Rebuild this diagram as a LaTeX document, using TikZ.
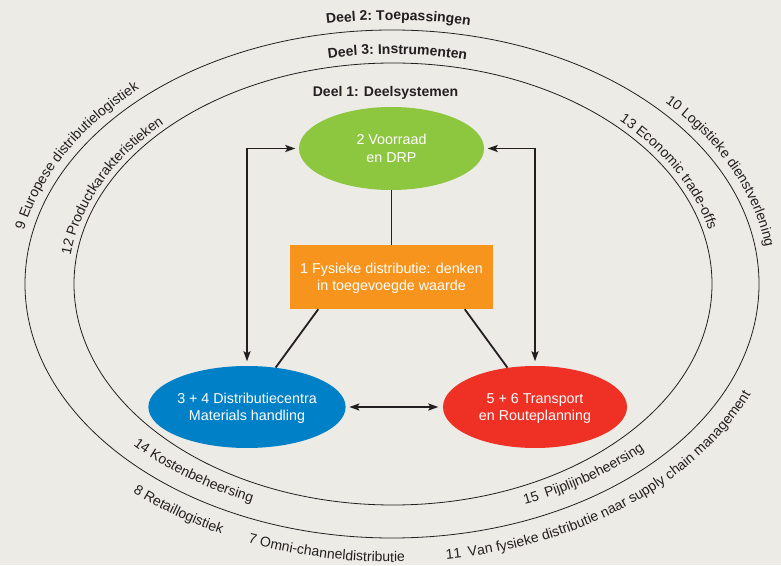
\documentclass[tikz,border=0pt]{standalone}
\usepackage{fontspec}
\setmainfont{Liberation Sans}
\usetikzlibrary{shapes.geometric,arrows.meta,decorations.text,calc}
\definecolor{bg}{HTML}{ECEBE6}
\definecolor{ink}{HTML}{231F20}
\definecolor{cgreen}{HTML}{8DC63F}
\definecolor{corange}{HTML}{F7941D}
\definecolor{cblue}{HTML}{0080C6}
\definecolor{cred}{HTML}{EE3124}
\newcommand{\lblfont}{\fontsize{14}{16}\selectfont}
\newcommand{\boldlbl}{\fontsize{14}{16}\selectfont\bfseries}
\newcommand{\nodefont}{\fontsize{14.3}{17.5}\selectfont}
% #1 x radius, #2 y radius, #3 start angle, #4 end angle, #5 font, #6 text
\newcommand{\arctext}[6]{%
  \path[decorate, decoration={text along path, text={|#5|#6}, text align=center, text color=ink}]
    ([shift={(392pt,281pt)}]#3:#1pt and #2pt) arc[start angle=#3, end angle=#4, x radius=#1pt, y radius=#2pt];}
\begin{document}
\begin{tikzpicture}[x=1pt,y=1pt,
  ring/.style={draw=ink, line width=0.8pt},
  blob/.style={ellipse, inner sep=0pt, minimum width=185pt, minimum height=83pt,
    text=white, font=\nodefont, align=center, text depth=0pt},
  conn/.style={draw=ink, line width=1.8pt},
  arr/.style={conn, {Stealth[length=10pt,width=7pt,inset=2pt]}-{Stealth[length=10pt,width=7pt,inset=2pt]},
    shorten <=3.5pt, shorten >=4.5pt},
]
\useasboundingbox (0,0) rectangle (781,565);
\fill[bg] (0,0) rectangle (781,565);

% rings
\coordinate (C) at (392,281);
\draw[ring] (C) ellipse [x radius=367, y radius=254];
\draw[ring] (393,281) ellipse [x radius=319, y radius=221];

% nodes
\node[blob, fill=cgreen] (vr) at (391.5,416.5) {2 Voorraad\\en DRP};
\node[rectangle, fill=corange, minimum width=203pt, minimum height=64pt, inner sep=0pt,
  text=white, font=\nodefont, align=center, text depth=0pt] (fd) at (391.5,288)
  {1 Fysieke distributie: denken\\in toegevoegde waarde};
\node[blob, fill=cblue, minimum width=184pt, minimum height=82pt] (dc) at (247,158)
  {3 + 4 Distributiecentra\\Materials handling};
\node[blob, fill=cred, minimum width=184pt, minimum height=82pt] (tr) at (535,158)
  {5 + 6 Transport\\en Routeplanning};
\node[font=\boldlbl, text=ink, anchor=base, inner sep=0pt] (d1) at (385.5,468.3) {Deel 1: Deelsystemen};

% connectors
\coordinate (fdl) at ($(fd.south west)!0.14!(fd.south east)$);
\coordinate (fdr) at ($(fd.south west)!0.86!(fd.south east)$);
\draw[conn] (vr.south) -- (fd.north);
\draw[conn] (fdl) -- (dc.54);
\draw[conn] (fdr) -- (tr.125);
\draw[arr] (vr.west) -| (dc.north);
\draw[arr] (vr.east) -| (tr.north);
\draw[arr] (dc.east) -- (tr.west);

% curved labels
\arctext{377}{264}{110}{68}{\boldlbl}{Deel 2: Toepassingen}
\arctext{328}{230}{115}{63}{\boldlbl}{Deel 3: Instrumenten}
\arctext{376}{263}{176}{126}{\lblfont}{9 Europese distributielogistiek}
\arctext{324}{226}{180}{129}{\lblfont}{12 Productkarakteristieken}
\arctext{377}{264}{50}{0}{\lblfont}{10 Logistieke dienstverlening}
\arctext{326}{228}{55}{2}{\lblfont}{13 Economic trade-offs}
\arctext{352}{238}{210}{257}{\lblfont}{14 Kostenbeheersing}
\arctext{352}{238}{282}{328}{\lblfont}{15{\hskip3pt} Pijplijnbeheersing}
\arctext{391}{278}{222}{250}{\lblfont}{8 Retaillogistiek}
\arctext{391}{278}{242}{278}{\lblfont}{7 Omni-channeldistributie}
\arctext{391}{278}{268}{350}{\lblfont}{11{\hskip3pt} Van fysieke distributie naar supply chain management}
\end{tikzpicture}
\end{document}
